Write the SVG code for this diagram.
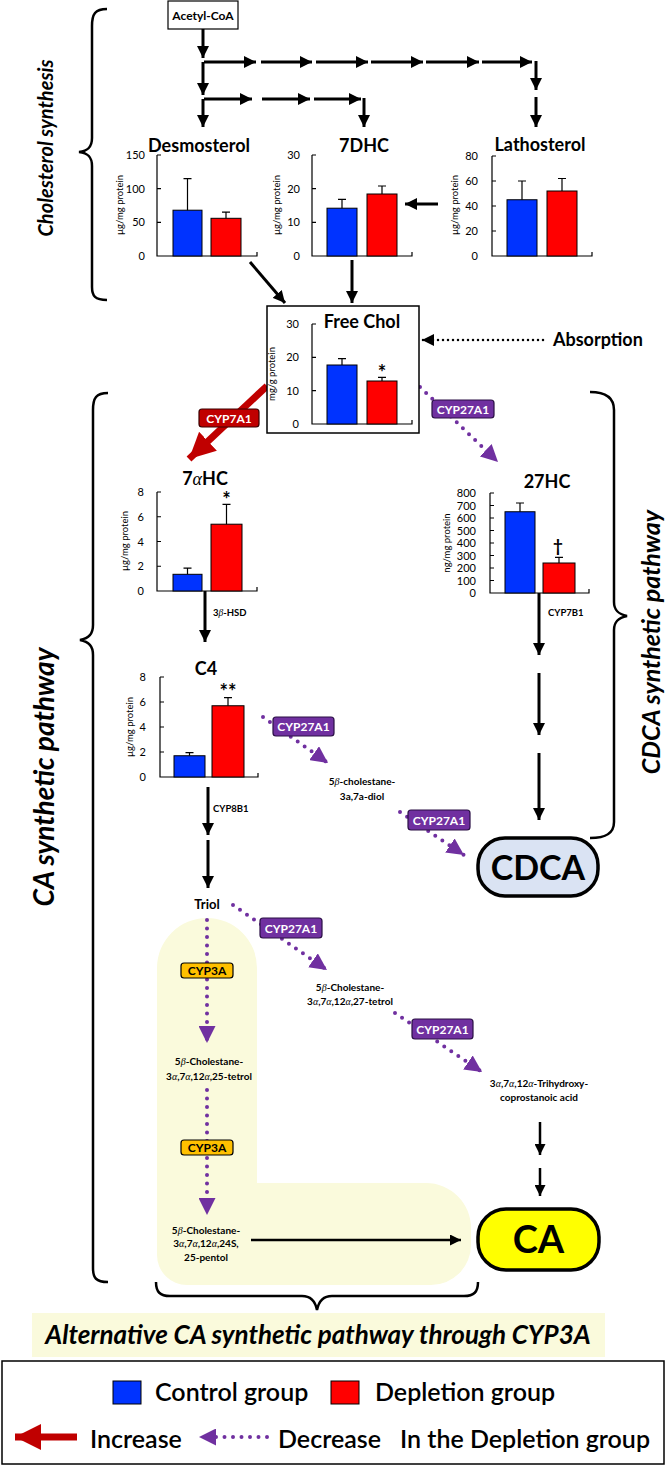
<svg xmlns="http://www.w3.org/2000/svg" width="666" height="1466" viewBox="0 0 666 1466">
<style>
text{font-family:Lato,"Liberation Sans",sans-serif;font-weight:bold;fill:#000}
.title{font-size:18px;text-anchor:middle}
.tick{font-size:11px;font-weight:normal;text-anchor:end}
.ylab{font-size:9.5px;font-weight:normal;text-anchor:middle}
.ax{stroke:#000;stroke-width:1.2;fill:none}
.bb{fill:#0033ff;stroke:#000;stroke-width:1}
.br{fill:#ff0000;stroke:#000;stroke-width:1}
.err{stroke:#000;stroke-width:1.2;fill:none}
.arr{stroke:#000;stroke-width:3;fill:none;marker-end:url(#ah)}
.arr2{stroke:#000;stroke-width:2.5;fill:none;marker-end:url(#ah2)}
.pd{stroke:#7030a0;stroke-width:4;stroke-dasharray:0 8.5;stroke-linecap:round;fill:none;marker-end:url(#ap)}
.brace{stroke:#000;stroke-width:2.5;fill:none}
.sm{font-size:10px;text-anchor:middle}
.enz{font-size:9.5px}
.side{font-style:italic;text-anchor:middle}
.gk{font-family:"Liberation Serif",serif;font-style:italic;font-weight:normal}
.lp{fill:#7030a0;stroke:#2a0f45;stroke-width:1.2}
.lpt{font-size:12px;fill:#fff;text-anchor:middle}
.ly{fill:#ffc000;stroke:#000;stroke-width:1.2}
.lyt{font-size:12px;text-anchor:middle}
.leg{font-size:25px;font-weight:600}
</style>
<defs>
<marker id="ah" viewBox="0 0 10 10" refX="10" refY="5" markerWidth="12" markerHeight="12" markerUnits="userSpaceOnUse" orient="auto"><path d="M0,0L10,5L0,10z" fill="#000"/></marker>
<marker id="ah2" viewBox="0 0 10 10" refX="10" refY="5" markerWidth="11" markerHeight="11" markerUnits="userSpaceOnUse" orient="auto"><path d="M0,0L10,5L0,10z" fill="#000"/></marker>
<marker id="ap" viewBox="0 0 10 10" refX="10" refY="5" markerWidth="17" markerHeight="17" markerUnits="userSpaceOnUse" orient="auto"><path d="M0,0L10,5L0,10z" fill="#7030a0"/></marker>
<marker id="ar" viewBox="0 0 10 10" refX="10" refY="5" markerWidth="26" markerHeight="26" markerUnits="userSpaceOnUse" orient="auto"><path d="M0,0L10,5L0,10z" fill="#c00000"/></marker>
</defs>

<!-- background region for alternative pathway -->
<path id="alt-region" d="M157,968 A50,50 0 0 1 257,968 L257,1183 L426,1183 A45,45 0 0 1 471,1228 L471,1245 A40,40 0 0 1 431,1285 L187,1285 A30,30 0 0 1 157,1255 Z" fill="#fafadc"/>

<!-- braces and side labels -->
<g id="braces">
<path class="brace" d="M107,9 C95,9 92,14 92,26 L92,138 C92,147 88,151 79,152 C88,153 92,157 92,166 L92,287 C92,296 95,300 107,300"/>
<path class="brace" d="M108,393 C96,393 93,398 93,410 L93,625 C93,634 89,638 80,640 C89,642 93,646 93,655 L93,1268 C93,1278 96,1282 108,1282"/>
<path class="brace" d="M590,392 C605,392 614,397 614,410 L614,602 C614,610 618,614 627,616 C618,618 614,622 614,630 L614,822 C614,834 605,838 590,838"/>
<path class="brace" d="M156,1282 C156,1292 160,1296 170,1296 L302,1296 C310,1296 315,1300 317,1310 C319,1300 324,1296 332,1296 L464,1296 C474,1296 478,1292 478,1282"/>
</g>
<text class="side" font-size="20" transform="translate(53,148) rotate(-90)">Cholesterol synthesis</text>
<text class="side" font-size="28" transform="translate(54,777) rotate(-90)">CA synthetic pathway</text>
<text class="side" font-size="25" transform="translate(660,642) rotate(-90)">CDCA synthetic pathway</text>

<!-- connectors -->
<g id="connectors">
<line class="arr" x1="203" y1="29" x2="203" y2="58"/>
<line class="arr" x1="203" y1="62" x2="203" y2="95"/>
<line class="arr" x1="203" y1="99" x2="203" y2="127"/>
<line class="arr" x1="204" y1="62" x2="256" y2="62"/>
<line class="arr" x1="261" y1="62" x2="312" y2="62"/>
<line class="arr" x1="316" y1="62" x2="368" y2="62"/>
<line class="arr" x1="371" y1="62" x2="423" y2="62"/>
<line class="arr" x1="426" y1="62" x2="479" y2="62"/>
<line class="arr" x1="482" y1="62" x2="532" y2="62"/>
<line class="arr" x1="536" y1="61" x2="536" y2="90"/>
<line class="arr" x1="536" y1="97" x2="536" y2="127"/>
<line class="arr" x1="204" y1="99" x2="252" y2="99"/>
<line class="arr" x1="262" y1="99" x2="310" y2="99"/>
<line class="arr" x1="314" y1="99" x2="361" y2="99"/>
<line class="arr" x1="364" y1="98" x2="364" y2="127"/>
<line class="arr" x1="438" y1="204" x2="405" y2="204"/>
<line class="arr" x1="250" y1="262" x2="285" y2="303"/>
<line class="arr" x1="352" y1="260" x2="352" y2="303"/>
<line x1="543" y1="340" x2="422" y2="340" stroke="#000" stroke-width="2.5" stroke-dasharray="0 5" stroke-linecap="round" marker-end="url(#ah)"/>
<line x1="267" y1="386" x2="189" y2="459" stroke="#c00000" stroke-width="7" marker-end="url(#ar)"/>
<line class="arr" x1="205" y1="591" x2="205" y2="642"/>
<line class="arr" x1="208" y1="787" x2="208" y2="835"/>
<line class="arr" x1="208" y1="840" x2="208" y2="888"/>
<line class="arr" x1="539" y1="593" x2="539" y2="655"/>
<line class="arr" x1="539" y1="673" x2="539" y2="735"/>
<line class="arr" x1="539" y1="753" x2="539" y2="820"/>
<line class="arr2" x1="540" y1="1122" x2="540" y2="1155"/>
<line class="arr2" x1="540" y1="1168" x2="540" y2="1196"/>
<line class="arr2" x1="251" y1="1240" x2="461" y2="1240"/>
<line class="pd" x1="420" y1="387" x2="498" y2="462"/>
<line class="pd" x1="263" y1="717" x2="328" y2="763"/>
<line class="pd" x1="400" y1="812" x2="464" y2="855"/>
<line class="pd" x1="233" y1="905" x2="327" y2="970"/>
<line class="pd" x1="395" y1="1013" x2="482" y2="1072"/>
<line class="pd" x1="207" y1="920" x2="207" y2="1043"/>
<line class="pd" x1="207" y1="1090" x2="207" y2="1215"/>
</g>

<!-- enzyme labels -->
<g id="lbl-cyp7a1"><rect x="199" y="409" width="60" height="18" rx="3" fill="#c00000" stroke="#3a0000" stroke-width="1.2"/><text class="lpt" x="229" y="422.5">CYP7A1</text></g>
<g id="lbl-cyp27a1-a"><rect class="lp" x="432" y="400" width="62" height="18" rx="3"/><text class="lpt" x="463" y="413.5">CYP27A1</text></g>
<g id="lbl-cyp27a1-b"><rect class="lp" x="273" y="717" width="61" height="19" rx="3"/><text class="lpt" x="303.5" y="731">CYP27A1</text></g>
<g id="lbl-cyp27a1-c"><rect class="lp" x="408" y="810" width="62" height="20" rx="3"/><text class="lpt" x="439" y="824.5">CYP27A1</text></g>
<g id="lbl-cyp27a1-d"><rect class="lp" x="260" y="918" width="62" height="20" rx="3"/><text class="lpt" x="291" y="932.5">CYP27A1</text></g>
<g id="lbl-cyp27a1-e"><rect class="lp" x="412" y="1019" width="61" height="20" rx="3"/><text class="lpt" x="442.5" y="1033.5">CYP27A1</text></g>
<g id="lbl-cyp3a-a"><rect class="ly" x="181" y="963" width="52" height="15" rx="3"/><text class="lyt" x="207" y="975">CYP3A</text></g>
<g id="lbl-cyp3a-b"><rect class="ly" x="181" y="1140" width="52" height="15" rx="3"/><text class="lyt" x="207" y="1152">CYP3A</text></g>
<text class="enz" x="213" y="616">3<tspan class="gk">β</tspan>-HSD</text>
<text class="enz" x="213" y="812">CYP8B1</text>
<text class="enz" x="548" y="616">CYP7B1</text>

<!-- Acetyl-CoA -->
<g id="acetyl-coa"><rect x="168" y="1" width="70" height="28" fill="#fff" stroke="#000" stroke-width="1.2"/><text x="203" y="20" font-size="12" text-anchor="middle">Acetyl-CoA</text></g>

<!-- Desmosterol -->
<g id="desmosterol">
<text class="title" x="199" y="152">Desmosterol</text>
<path class="ax" d="M157,155 V256 H257 V252 M157,155 h4 M157,188.7 h4 M157,222.3 h4"/>
<text class="tick" x="145" y="159">150</text><text class="tick" x="145" y="192.5">100</text><text class="tick" x="145" y="226">50</text><text class="tick" x="145" y="260">0</text>
<text class="ylab" transform="translate(123,205) rotate(-90)">µg/mg protein</text>
<rect class="bb" x="173" y="210.2" width="29" height="45.8"/><rect class="br" x="211" y="218.3" width="30" height="37.7"/>
<path class="err" d="M187.5,210.2V178.6M183.5,178.6h8M226,218.3V212.2M222,212.2h8"/>
</g>

<!-- 7DHC -->
<g id="dhc7">
<text class="title" x="364" y="152">7DHC</text>
<path class="ax" d="M312,155 V256 H412 V252 M312,155 h4 M312,188.7 h4 M312,222.3 h4"/>
<text class="tick" x="300" y="159">30</text><text class="tick" x="300" y="192.5">20</text><text class="tick" x="300" y="226">10</text><text class="tick" x="300" y="260">0</text>
<text class="ylab" transform="translate(280,205) rotate(-90)">µg/mg protein</text>
<rect class="bb" x="327" y="208.2" width="30" height="47.8"/><rect class="br" x="367" y="194" width="30" height="62"/>
<path class="err" d="M342,208.2V199.4M338,199.4h8M382,194V186M378,186h8"/>
</g>

<!-- Lathosterol -->
<g id="lathosterol">
<text class="title" x="540" y="151">Lathosterol</text>
<path class="ax" d="M492,156 V256 H592 V252 M492,156 h4 M492,181 h4 M492,206 h4 M492,231 h4"/>
<text class="tick" x="478" y="160">80</text><text class="tick" x="478" y="185">60</text><text class="tick" x="478" y="210">40</text><text class="tick" x="478" y="235">20</text><text class="tick" x="478" y="260">0</text>
<text class="ylab" transform="translate(458,205) rotate(-90)">µg/mg protein</text>
<rect class="bb" x="507" y="199.75" width="30" height="56.25"/><rect class="br" x="547" y="191" width="30" height="65"/>
<path class="err" d="M522,199.75V181M518,181h8M562,191V178.5M558,178.5h8"/>
</g>

<!-- Free Chol -->
<g id="free-chol">
<rect x="267" y="306" width="152" height="127" fill="#fff" stroke="#000" stroke-width="1.5"/>
<text class="title" x="362" y="328">Free Chol</text>
<path class="ax" d="M312,324 V424 H412 V420 M312,324 h4 M312,357.3 h4 M312,390.7 h4"/>
<text class="tick" x="299" y="328">30</text><text class="tick" x="299" y="361.3">20</text><text class="tick" x="299" y="394.7">10</text><text class="tick" x="299" y="428">0</text>
<text class="ylab" transform="translate(275,374) rotate(-90)">mg/g protein</text>
<rect class="bb" x="327" y="365" width="30" height="59"/><rect class="br" x="367" y="381" width="30" height="43"/>
<path class="err" d="M342,365V358.7M338,358.7h8M382,381V377.3M378,377.3h8"/>
<text x="382" y="380" font-size="20" font-weight="normal" text-anchor="middle">*</text>
</g>
<text x="553" y="346" font-size="18">Absorption</text>

<!-- 7aHC -->
<g id="hc7a">
<text class="title" x="205" y="485">7<tspan class="gk">α</tspan>HC</text>
<path class="ax" d="M157,492 V591 H257 V587 M157,492 h4 M157,516.75 h4 M157,541.5 h4 M157,566.25 h4"/>
<text class="tick" x="144" y="496">8</text><text class="tick" x="144" y="520.75">6</text><text class="tick" x="144" y="545.5">4</text><text class="tick" x="144" y="570.25">2</text><text class="tick" x="144" y="595">0</text>
<text class="ylab" transform="translate(128,541) rotate(-90)">µg/mg protein</text>
<rect class="bb" x="173" y="574.3" width="29" height="16.7"/><rect class="br" x="211" y="524.2" width="31" height="66.8"/>
<path class="err" d="M187.5,574.3V568.1M183.5,568.1h8M226.5,524.2V504.4M222.5,504.4h8"/>
<text x="226.5" y="507" font-size="20" font-weight="normal" text-anchor="middle">*</text>
</g>

<!-- 27HC -->
<g id="hc27">
<text class="title" x="547" y="488">27HC</text>
<path class="ax" d="M490,493 V593 H589 V589 M490,493 h4 M490,505.5 h4 M490,518 h4 M490,530.5 h4 M490,543 h4 M490,555.5 h4 M490,568 h4 M490,580.5 h4"/>
<text class="tick" x="476" y="497">800</text><text class="tick" x="476" y="509.5">700</text><text class="tick" x="476" y="522">600</text><text class="tick" x="476" y="534.5">500</text><text class="tick" x="476" y="547">400</text><text class="tick" x="476" y="559.5">300</text><text class="tick" x="476" y="572">200</text><text class="tick" x="476" y="584.5">100</text><text class="tick" x="476" y="597">0</text>
<text class="ylab" transform="translate(450,543) rotate(-90)">ng/mg protein</text>
<rect class="bb" x="505" y="511.75" width="30" height="81.25"/><rect class="br" x="543" y="563" width="32" height="30"/>
<path class="err" d="M520,511.75V503M516,503h8M559,563V557.4M555,557.4h8"/>
<text x="558" y="552" font-size="17" font-weight="normal" text-anchor="middle">†</text>
</g>

<!-- C4 -->
<g id="c4">
<text class="title" x="206" y="675">C4</text>
<path class="ax" d="M160,677 V777 H258 V773 M160,677 h4 M160,702 h4 M160,727 h4 M160,752 h4"/>
<text class="tick" x="146" y="681">8</text><text class="tick" x="146" y="706">6</text><text class="tick" x="146" y="731">4</text><text class="tick" x="146" y="756">2</text><text class="tick" x="146" y="781">0</text>
<text class="ylab" transform="translate(133,727) rotate(-90)">µg/mg protein</text>
<rect class="bb" x="174" y="755.75" width="31" height="21.25"/><rect class="br" x="212" y="705.75" width="32" height="71.25"/>
<path class="err" d="M189.5,755.75V752.6M185.5,752.6h8M228,705.75V697.6M224,697.6h8"/>
<text x="228" y="699" font-size="20" font-weight="normal" text-anchor="middle">**</text>
</g>

<!-- intermediates -->
<g id="diol"><text class="sm" x="362" y="785">5<tspan class="gk">β</tspan>-cholestane-</text><text class="sm" x="362" y="800">3a,7a-diol</text></g>
<g id="triol"><text x="207" y="909" font-size="13" text-anchor="middle">Triol</text></g>
<g id="tetrol27"><text class="sm" x="350" y="991">5<tspan class="gk">β</tspan>-Cholestane-</text><text class="sm" x="350" y="1005">3<tspan class="gk">α</tspan>,7<tspan class="gk">α</tspan>,12<tspan class="gk">α</tspan>,27-tetrol</text></g>
<g id="tetrol25"><text class="sm" x="209" y="1065">5<tspan class="gk">β</tspan>-Cholestane-</text><text class="sm" x="209" y="1080">3<tspan class="gk">α</tspan>,7<tspan class="gk">α</tspan>,12<tspan class="gk">α</tspan>,25-tetrol</text></g>
<g id="thca"><text class="sm" x="539" y="1087">3<tspan class="gk">α</tspan>,7<tspan class="gk">α</tspan>,12<tspan class="gk">α</tspan>-Trihydroxy-</text><text class="sm" x="539" y="1101">coprostanoic acid</text></g>
<g id="pentol"><text class="sm" x="206" y="1234">5<tspan class="gk">β</tspan>-Cholestane-</text><text class="sm" x="206" y="1247">3<tspan class="gk">α</tspan>,7<tspan class="gk">α</tspan>,12<tspan class="gk">α</tspan>,24S,</text><text class="sm" x="206" y="1261">25-pentol</text></g>

<!-- bile acids -->
<g id="cdca"><rect x="478" y="838" width="120" height="58" rx="27" fill="#dae3f3" stroke="#000" stroke-width="3.5"/><text x="538" y="880" font-size="34" text-anchor="middle">CDCA</text></g>
<g id="ca"><rect x="478" y="1209" width="121" height="61" rx="28" fill="#ffff00" stroke="#000" stroke-width="3.5"/><text x="538.5" y="1253" font-size="38" text-anchor="middle">CA</text></g>

<!-- banner -->
<g id="banner"><rect x="32" y="1313" width="573" height="44" fill="#fafadc"/><text x="318" y="1344" font-size="26" font-style="italic" text-anchor="middle">Alternative CA synthetic pathway through CYP3A</text></g>

<!-- legend -->
<g id="legend">
<rect x="2" y="1361" width="662" height="103" fill="#fff" stroke="#000" stroke-width="1.5"/>
<rect x="113" y="1381" width="28" height="23" fill="#0033ff" stroke="#000" stroke-width="1"/>
<text class="leg" x="155" y="1401">Control group</text>
<rect x="331" y="1381" width="28" height="23" fill="#ff0000" stroke="#000" stroke-width="1"/>
<text class="leg" x="375" y="1401">Depletion group</text>
<line x1="77" y1="1437" x2="15" y2="1437" stroke="#c00000" stroke-width="7" marker-end="url(#ar)"/>
<text class="leg" x="90" y="1448">Increase</text>
<line x1="267" y1="1437" x2="199" y2="1437" stroke="#7030a0" stroke-width="4" stroke-dasharray="0 8.5" stroke-linecap="round" marker-end="url(#ap)"/>
<text class="leg" x="278" y="1448">Decrease</text>
<text class="leg" x="400" y="1448">In the Depletion group</text>
</g>
</svg>
